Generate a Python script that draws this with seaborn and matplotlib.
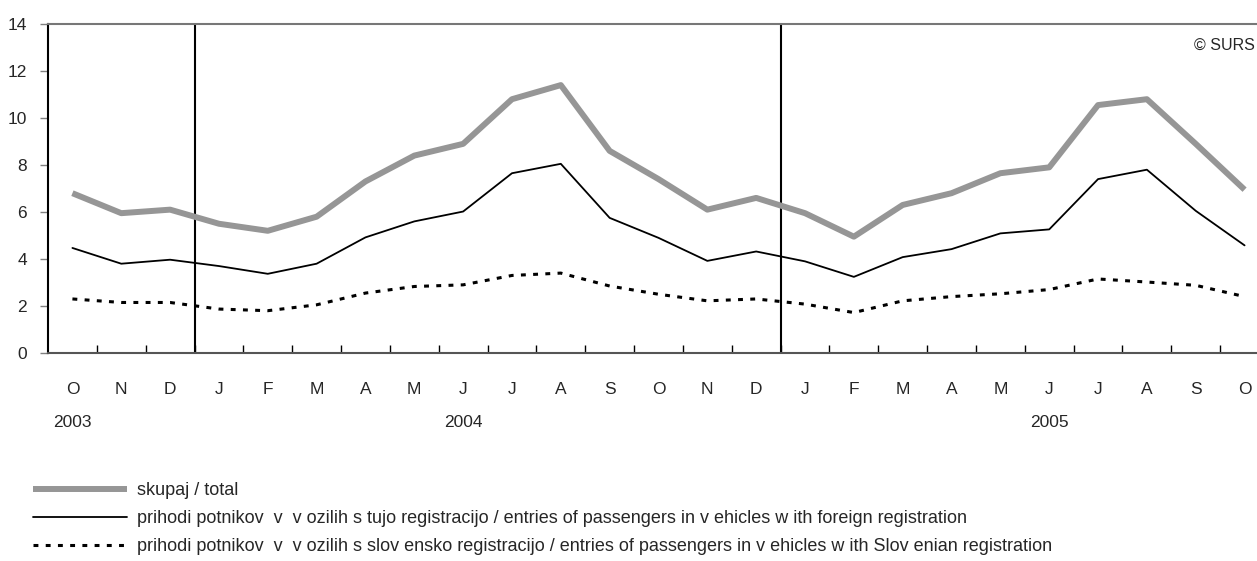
import matplotlib
matplotlib.use("Agg")
import matplotlib.pyplot as plt
import seaborn as sns
import numpy as np

months = ['O', 'N', 'D', 'J', 'F', 'M', 'A', 'M', 'J', 'J', 'A', 'S',
          'O', 'N', 'D', 'J', 'F', 'M', 'A', 'M', 'J', 'J', 'A', 'S', 'O']
years = {0: '2003', 8: '2004', 20: '2005'}
total = [6.8, 5.95, 6.1, 5.5, 5.2, 5.8, 7.3, 8.4, 8.9, 10.8, 11.4, 8.6,
         7.4, 6.1, 6.6, 5.95, 4.95, 6.3, 6.8, 7.65, 7.9, 10.55, 10.8, 8.9, 6.95]
foreign = [4.47, 3.8, 3.97, 3.7, 3.37, 3.8, 4.92, 5.6, 6.02, 7.65, 8.05, 5.75,
           4.9, 3.92, 4.32, 3.9, 3.24, 4.08, 4.42, 5.09, 5.26, 7.4, 7.8, 6.05, 4.58]
slovenian = [2.3, 2.15, 2.15, 1.87, 1.8, 2.05, 2.55, 2.83, 2.9, 3.3, 3.4, 2.85,
             2.5, 2.22, 2.3, 2.08, 1.72, 2.22, 2.4, 2.52, 2.7, 3.15, 3.02, 2.88, 2.4]
labels = ['skupaj / total',
          'prihodi potnikov  v  v ozilih s tujo registracijo / entries of passengers in v ehicles w ith foreign registration',
          'prihodi potnikov  v  v ozilih s slov ensko registracijo / entries of passengers in v ehicles w ith Slov enian registration']
year_breaks = [2.5, 14.5]

sns.set_style('white')
plt.rcParams['font.family'] = ['Liberation Sans', 'DejaVu Sans']

W, H = 1257, 561
fig = plt.figure(figsize=(W / 100, H / 100), dpi=100)
ax = fig.add_axes([48 / W, (H - 353) / H, 1221 / W, 329 / H])

x = np.arange(len(months))
sns.lineplot(x=x, y=total, ax=ax, color='#969696', linewidth=4.3,
             label=labels[0], solid_capstyle='butt')
sns.lineplot(x=x, y=foreign, ax=ax, color='black', linewidth=1.3,
             label=labels[1])
sns.lineplot(x=x, y=slovenian, ax=ax, color='black', linewidth=2.2,
             linestyle=(0, (1.6, 2.4)), dash_capstyle='butt', label=labels[2])

for b in year_breaks:
    ax.axvline(b, color='black', linewidth=1.5, zorder=1)

ax.set_xlim(-0.5, 24.5)
ax.set_ylim(0, 14)
ax.set_yticks(np.arange(0, 15, 2))
ax.tick_params(axis='y', direction='out', length=6, width=1, color='#808080',
               pad=9, labelsize=12.5, left=True)
ax.set_xticks(x)
ax.set_xticklabels(months)
ax.set_xticks(np.arange(0.5, 24.5, 1), minor=True)
ax.tick_params(axis='x', which='major', length=0, pad=21, labelsize=12.5,
               bottom=True)
ax.tick_params(axis='x', which='minor', direction='in', length=6, width=1,
               color='black', bottom=True)

for i, yr in years.items():
    ax.annotate(yr, xy=(i, 0), xycoords=('data', 'axes fraction'),
                xytext=(0, -50), textcoords='offset points',
                ha='center', va='center', fontsize=12.5)

ax.spines['right'].set_visible(False)
ax.spines['left'].set_color('black')
ax.spines['left'].set_linewidth(1.5)
ax.spines['bottom'].set_color('#555555')
ax.spines['bottom'].set_linewidth(1.5)
ax.spines['top'].set_color('#777777')
ax.spines['top'].set_linewidth(1.5)
ax.set_xlabel('')
ax.set_ylabel('')

ax.text(0.9386, 0.936, '\u00a9 SURS', transform=ax.transAxes, fontsize=11.5,
        ha='left', va='center')

handles, lbls = ax.get_legend_handles_labels()
ax.get_legend().remove()
fig.legend(handles, lbls, loc='upper left', bbox_to_anchor=(33 / W, (H - 482) / H),
           frameon=False, fontsize=13, handlelength=5.2, handletextpad=0.56,
           labelspacing=0.62, borderpad=0, borderaxespad=0)

fig.savefig('out.png', dpi=100)
